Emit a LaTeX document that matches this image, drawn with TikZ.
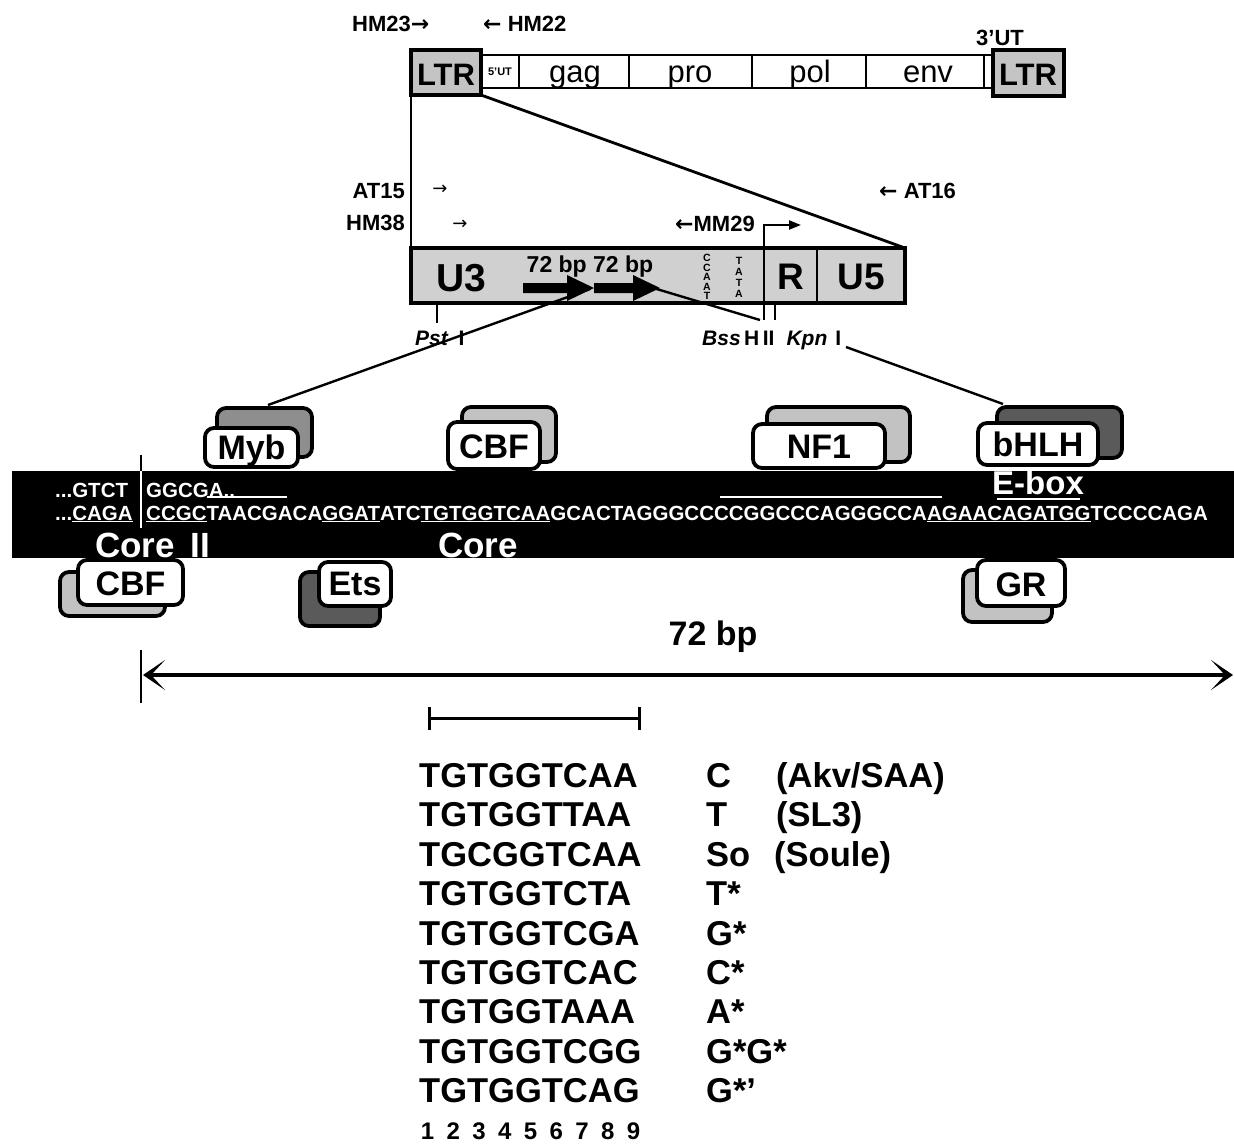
\documentclass[tikz,border=0pt]{standalone}
\usepackage{fontspec}
\setmainfont{Liberation Sans}
\newfontfamily\arrfont{DejaVu Sans}
\usetikzlibrary{arrows.meta}
\definecolor{ltrgray}{HTML}{C4C4C4}
\definecolor{uthreegray}{HTML}{D0D0D0}
\definecolor{lightsh}{HTML}{C2C2C2}
\definecolor{midsh}{HTML}{8E8E8E}
\definecolor{darksh}{HTML}{5A5A5A}
\newcommand{\myfs}[1]{\fontsize{#1}{#1}\selectfont}
\begin{document}
\begin{tikzpicture}[x=1pt,y=-1pt,
  lbl/.style={font=\bfseries\myfs{22}, inner sep=0pt},
  gene/.style={font=\myfs{31}, inner sep=0pt, anchor=base},
  fac/.style={draw=black, line width=3.8pt, rounded corners=9pt, fill=white},
  facback/.style={draw=black, line width=3.8pt, rounded corners=9pt},
  factxt/.style={font=\bfseries\myfs{34}, inner sep=0pt, anchor=base},
  seq/.style={font=\bfseries\myfs{20.5}, text=white, inner sep=0pt, anchor=base west},
  tab/.style={font=\bfseries\myfs{34.5}, inner sep=0pt, anchor=base west},
  thickline/.style={line width=2.8pt},
  conn/.style={line width=2.4pt},
  site/.style={font=\bfseries\myfs{21}, inner sep=0pt, anchor=base west},
]
\useasboundingbox (0,0) rectangle (1234,1144);

% ---------------- genome ----------------
\node[lbl, anchor=west] (hm23) at (352,24) {HM23{\arrfont →}};
\node[lbl, anchor=west] (hm22) at (483,24) {{\arrfont ←} HM22};
\node[font=\bfseries\myfs{22}, inner sep=0pt] (utthree) at (1000,38) {3'UT};

\draw[thickline] (481,55) rectangle (993,88);
\foreach \xx in {519,629,752,866,984} \draw[line width=2.2pt] (\xx,55) -- (\xx,88);
\draw[line width=3.4pt, fill=ltrgray] (411,50) rectangle (481,95);
\draw[line width=3.4pt, fill=ltrgray] (993,50) rectangle (1064,96);
\node[font=\bfseries\myfs{31}, inner sep=0pt, anchor=base] (ltrL) at (446,85) {LTR};
\node[font=\bfseries\myfs{31}, inner sep=0pt, anchor=base] (ltrR) at (1028,85) {LTR};
\node[font=\bfseries\myfs{11}, inner sep=0pt] (utfive) at (500,72) {5'UT};
\node[gene] (gag) at (575,82) {gag};
\node[gene] (pro) at (690,82) {pro};
\node[gene] (pol) at (810,82) {pol};
\node[gene] (env) at (928,82) {env};

\coordinate (ltrBL) at (411,95);
\coordinate (ltrBR) at (481,95);
\coordinate (uTL) at (411,248);
\coordinate (uTR) at (905,248);
\draw[thickline] (ltrBL) -- (uTL);
\draw[thickline] (ltrBR) -- (uTR);

% ---------------- primers ----------------
\node[lbl, anchor=east] (at15) at (405,191) {AT15};
\node[font=\arrfont\myfs{18}, inner sep=0pt] (at15a) at (440,190) {→};
\node[lbl, anchor=east] (hm38) at (405,223) {HM38};
\node[font=\arrfont\myfs{18}, inner sep=0pt] (hm38a) at (460,225) {→};
\node[lbl, anchor=west] (at16) at (879,191) {{\arrfont ←} AT16};
\node[lbl, anchor=west] (mm29) at (675,224) {{\arrfont ←}MM29};

% ---------------- LTR box ----------------
\draw[line width=3.4pt, fill=uthreegray] (uTL) rectangle (905,303);
\draw[line width=2.6pt] (764,248) -- (764,303);
\draw[line width=2.6pt] (817,248) -- (817,303);
\node[font=\bfseries\myfs{39}, inner sep=0pt, anchor=base] (uthree) at (461,291) {U3};
\node[font=\bfseries\myfs{37}, inner sep=0pt, anchor=base] (rr) at (791,289) {R};
\node[font=\bfseries\myfs{37}, inner sep=0pt, anchor=base] (ufive) at (861,289) {U5};
\node[font=\bfseries\myfs{23}, inner sep=0pt, anchor=base] (bp72) at (590,272) {72 bp 72 bp};
\node[font=\bfseries\fontsize{10.5}{9.6}\selectfont, align=center, inner sep=0pt] (ccaat) at (707,277) {C\\C\\A\\A\\T};
\node[font=\bfseries\fontsize{10.5}{11}\selectfont, align=center, inner sep=0pt] (tata) at (739,277) {T\\A\\T\\A};

% connector lines to sequence
\coordinate (arrJ) at (590,289);
\coordinate (mybTop) at (268,405);
\coordinate (arrE) at (650,287);
\coordinate (bssL) at (760,320);
\coordinate (kpnR) at (846,347);
\coordinate (bhlhTop) at (1003,404);
\draw[conn] (arrJ) -- (mybTop);
\draw[conn] (arrE) -- (bssL);
\draw[conn] (kpnR) -- (bhlhTop);

% 72 bp arrows
\fill (523,283) -- (567,283) -- (567,275) -- (594,288) -- (567,301) -- (567,293) -- (523,293) -- cycle;
\fill (594,283) -- (633,283) -- (633,275) -- (660,288) -- (633,301) -- (633,293) -- (594,293) -- cycle;

% MM29 bent arrow and sites
\coordinate (mmB) at (764,320);
\coordinate (mmC) at (764,225);
\coordinate (mmE) at (801,225);
\draw[line width=2.2pt, -{Triangle[length=12pt,width=9pt]}] (mmB) -- (mmC) -- (mmE);
\draw[line width=2.2pt] (775,303) -- (775,320);
\draw[line width=2.4pt] (437,303) -- (437,323);
\node[site] (pst) at (415,345) {\textit{Pst}\hspace{10pt}I};
\node[site] (bss) at (702,345) {\textit{Bss}\,H\,II\hspace{12pt}\textit{Kpn}\hspace{8pt}I};

% ---------------- sequence band ----------------
\fill[black] (12,471) rectangle (1234,558);
\draw[line width=2pt] (141,455) -- (141,471);
\draw[white, line width=2pt] (141,471) -- (141,528);
\node[seq] (row1a) at (55,497) {...GTCT};
\node[seq] (row1b) at (146,497) {GGCGA..};
\node[seq] (row2a) at (55,520) {...\underline{CAGA}};
\node[seq] (row2b) at (146,520) {\underline{CCGC}TAACGACA\underline{GGAT}ATC\underline{TGTGGTCAA}GCACTAGGGCCCCGGCCCAGGGCCA\underline{AGAACAGATGG}TCCCCAGA};
\draw[white, line width=2pt] (207,497) -- (287,497);
\draw[white, line width=2pt] (720,497) -- (942,497);
\draw[white, line width=2pt] (997,499) -- (1080,499);
\node[font=\bfseries\myfs{35}, text=white, inner sep=0pt, anchor=base west] (coreii) at (95,557) {Core\hspace{16pt}II};
\node[font=\bfseries\myfs{35}, text=white, inner sep=0pt, anchor=base west] (core) at (438,557) {Core};
\node[font=\bfseries\myfs{33}, text=white, inner sep=0pt, anchor=base west] (ebox) at (992,494) {E-box};

% ---------------- factors ----------------
\draw[facback, fill=midsh] (217,408) rectangle (312,457);
\draw[fac] (205,428) rectangle (298,467);
\node[factxt] (myb) at (251.5,459) {Myb};

\draw[facback, fill=lightsh] (462,407) rectangle (556,462);
\draw[fac] (448,422) rectangle (540,469);
\node[factxt] (cbfT) at (494,458) {CBF};

\draw[facback, fill=lightsh] (767,407) rectangle (910,462);
\draw[fac] (753,424) rectangle (885,468);
\node[factxt] (nfone) at (819,458) {NF1};

\draw[facback, fill=darksh] (997,407) rectangle (1122,458);
\draw[fac] (978,423) rectangle (1098,465);
\node[factxt] (bhlh) at (1038,456) {bHLH};

\draw[facback, fill=lightsh] (60,572) rectangle (165,616);
\draw[fac] (78,560) rectangle (183,605);
\node[factxt] (cbfB) at (130.5,595) {CBF};

\draw[facback, fill=darksh] (300,572) rectangle (380,626);
\draw[fac] (319,562) rectangle (391,606);
\node[factxt] (ets) at (355,595) {Ets};

\draw[facback, fill=lightsh] (963,570) rectangle (1052,622);
\draw[fac] (977,560) rectangle (1065,606);
\node[factxt] (gr) at (1021,596) {GR};

% ---------------- 72 bp span ----------------
\node[font=\bfseries\myfs{34}, inner sep=0pt, anchor=base] (span) at (713,645) {72 bp};
\draw[line width=2.2pt] (141,650) -- (141,703);
\coordinate (spL) at (143,675);
\coordinate (spR) at (1233,675);
\draw[line width=3.2pt, {Stealth[length=22pt,width=30pt,inset=14pt]}-{Stealth[length=22pt,width=30pt,inset=14pt]}] (spL) -- (spR);

% bracket
\coordinate (brL) at (429,718);
\coordinate (brR) at (639,718);
\draw[line width=3pt] (brL) -- (brR);
\draw[line width=3pt] (429,707) -- (429,730);
\draw[line width=3pt] (639,707) -- (639,730);

% ---------------- table ----------------
\node[tab] (s1) at (419,787.5) {TGTGGTCAA};
\node[tab] (s2) at (419,826.9) {TGTGGTTAA};
\node[tab] (s3) at (419,866.3) {TGCGGTCAA};
\node[tab] (s4) at (419,905.7) {TGTGGTCTA};
\node[tab] (s5) at (419,945.1) {TGTGGTCGA};
\node[tab] (s6) at (419,984.5) {TGTGGTCAC};
\node[tab] (s7) at (419,1023.9) {TGTGGTAAA};
\node[tab] (s8) at (419,1063.3) {TGTGGTCGG};
\node[tab] (s9) at (419,1102.7) {TGTGGTCAG};
\node[tab] (c1) at (706,787.5) {C};
\node[tab] (c2) at (706,826.9) {T};
\node[tab] (c3) at (706,866.3) {So};
\node[tab] (c4) at (706,905.7) {T*};
\node[tab] (c5) at (706,945.1) {G*};
\node[tab] (c6) at (706,984.5) {C*};
\node[tab] (c7) at (706,1023.9) {A*};
\node[tab] (c8) at (706,1063.3) {G*G*};
\node[tab] (c9) at (706,1102.7) {G*'};
\node[tab] (d1) at (776,787.5) {(Akv/SAA)};
\node[tab] (d2) at (776,826.9) {(SL3)};
\node[tab] (d3) at (774,866.3) {(Soule)};
\foreach \n [count=\i from 0] in {1,...,9}
  \node[font=\bfseries\myfs{24}, inner sep=0pt, anchor=base] (n\n) at (427.5+25.75*\i,1139) {\n};
\end{tikzpicture}
\end{document}
